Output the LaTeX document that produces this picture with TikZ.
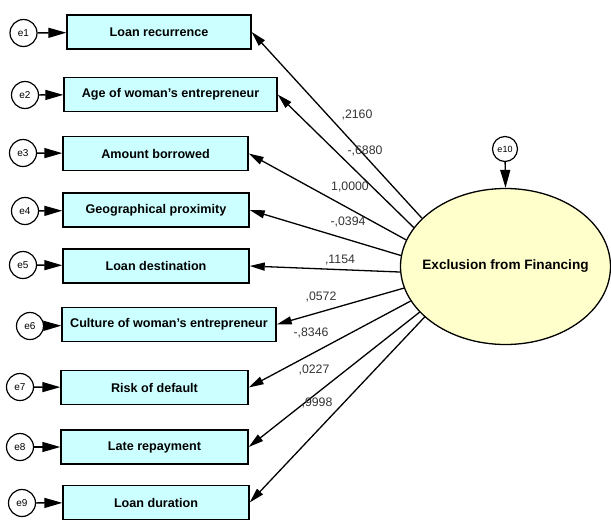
\documentclass[tikz,border=0pt]{standalone}
\usepackage{fontspec}
\setmainfont{Liberation Sans}
\usetikzlibrary{arrows.meta,shapes.geometric}
\definecolor{boxfill}{HTML}{CCFFFF}
\definecolor{ellfill}{HTML}{FFFFCC}
\definecolor{coef}{HTML}{333333}
\tikzset{
  obs/.style={draw, line width=1.4pt, fill=boxfill, minimum height=34pt, inner sep=0pt,
    font=\fontsize{12.6}{14}\selectfont\bfseries},
  err/.style={draw, circle, line width=1.2pt, minimum size=27pt, inner sep=0pt,
    font=\fontsize{10}{11}\selectfont},
  errarrow/.style={line width=1.4pt, -{Triangle[length=18pt,width=10pt]}},
  load/.style={line width=1.3pt, -{Triangle[length=15pt,width=8pt]}},
  coefl/.style={text=coef, font=\fontsize{12.3}{14}\selectfont, inner sep=0pt},
}
\begin{document}
\begin{tikzpicture}[x=1pt,y=-1pt]
\useasboundingbox (0,0) rectangle (611,520);
% observed variables
\node[obs, minimum width=184pt] (b1) at (159,32) {Loan recurrence};
\node[obs, minimum width=213pt] (b2) at (170.5,94.5) {Age of woman’s entrepreneur};
\node[obs, minimum width=185pt] (b3) at (155.5,153.5) {Amount borrowed};
\node[obs, minimum width=186pt] (b4) at (156,210) {Geographical proximity};
\node[obs, minimum width=186pt] (b5) at (156,266) {Loan destination};
\node[obs, minimum width=214pt] (b6) at (169,324.5) {Culture of woman’s entrepreneur};
\node[obs, minimum width=187pt] (b7) at (154.5,387.5) {Risk of default};
\node[obs, minimum width=187pt] (b8) at (154.5,447) {Late repayment};
\node[obs, minimum width=186pt] (b9) at (156,502.5) {Loan duration};
% errors
\node[err] (e1) at (23.5,33) {e1};
\node[err] (e2) at (25,95) {e2};
\node[err] (e3) at (23,153) {e3};
\node[err] (e4) at (25,211) {e4};
\node[err] (e5) at (23,265) {e5};
\node[err] (e6) at (30,326) {e6};
\node[err] (e7) at (20,387) {e7};
\node[err] (e8) at (20,447) {e8};
\node[err] (e9) at (22,503) {e9};
\foreach \i in {1,...,9} \draw[errarrow] (e\i) -- (b\i);
% latent
\node[draw, ellipse, line width=1.3pt, fill=ellfill, minimum width=210pt, minimum height=156pt,
  inner sep=0pt, label={[font=\fontsize{13.6}{16}\selectfont\bfseries]center:Exclusion from Financing}] (ell) at (505.5,266.5) {};
\node[err, minimum size=25pt, font=\fontsize{9}{10}\selectfont] (e10) at (505,149) {e10};
\draw[errarrow] (e10) -- (ell.north);
% loadings
\draw[load] (ell.150) -- (b1.east);
\draw[load] (ell.157.6) -- (b2.east);
\draw[load] (ell.165.4) -- (b3.east);
\draw[load] (ell.174) -- (b4.east);
\draw[load] (ell.183) -- (b5.east);
\draw[load] (ell.192) -- (b6.east);
\draw[load] (ell.200.4) -- (b7.east);
\draw[load] (ell.208) -- (b8.east);
\draw[load] (ell.212.4) -- (b9.east);
% coefficients
\node[coefl] (c1) at (357,115) {,2160};
\node[coefl] (c2) at (365,151) {-,6880};
\node[coefl] (c3) at (350,187) {1,0000};
\node[coefl] (c4) at (348,222) {-,0394};
\node[coefl] (c5) at (340,260) {,1154};
\node[coefl] (c6) at (321,297) {,0572};
\node[coefl] (c7) at (311,333) {-,8346};
\node[coefl] (c8) at (314,370) {,0227};
\node[coefl] (c9) at (317,403) {,9998};
\end{tikzpicture}
\end{document}
